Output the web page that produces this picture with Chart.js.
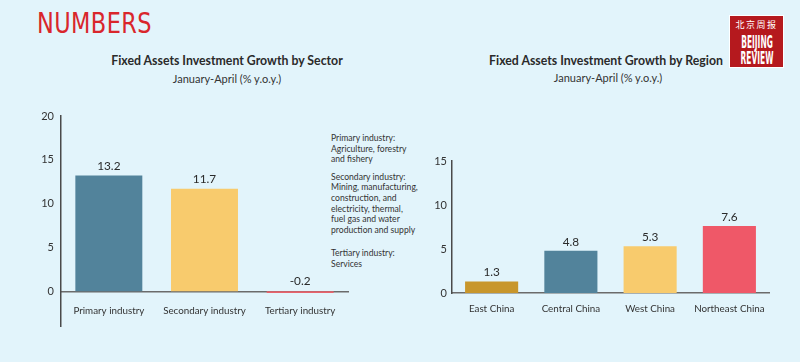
<!DOCTYPE html>
<html>
<head>
<meta charset="utf-8">
<script src="https://cdn.jsdelivr.net/npm/chart.js@4.4.1/dist/chart.umd.min.js"></script>
<style>
  html, body { margin:0; padding:0; }
  body { width:800px; height:362px; background:#e2f4fb; position:relative; overflow:hidden; font-family: Lato, "Open Sans", sans-serif; color:#333; }
  .abs { position:absolute; }
  #numbers { left:37px; top:6px; font-family:"Liberation Sans Narrow","DejaVu Sans Condensed",sans-serif; font-size:29px; color:#d9262c; letter-spacing:0.5px; transform:scaleX(0.86); transform-origin:0 0; }
  .title { font-weight:bold; font-size:12.3px; color:#2a2a2a; text-align:center; white-space:nowrap; }
  .sub { font-size:11px; color:#333; text-align:center; white-space:nowrap; }
  #note { left:331px; top:133px; font-size:8.6px; line-height:10.6px; color:#333; }
  #note p { margin:0 0 7px 0; }
  #logo { left:730px; top:16px; width:53px; height:51px; background:#b5191e; color:#fff; outline:1px solid #fff; overflow:hidden; }
  #logo .cn { font-family:"Noto Sans CJK SC"; font-size:9px; line-height:11px; margin-top:3px; letter-spacing:1.5px; text-align:center; }
  #logo .en { position:absolute; left:-23px; width:100px; text-align:center; font-family:"Liberation Sans Narrow","DejaVu Sans Condensed",sans-serif; font-weight:bold; font-size:13px; line-height:13px; transform:scale(0.64, 1.4); letter-spacing:0px; }
  canvas { position:absolute; }
</style>
</head>
<body>
<div id="numbers" class="abs">NUMBERS</div>
<div id="logo" class="abs"><div class="cn">北京周报</div><div class="en" style="top:19px;">BEIJING</div><div class="en" style="top:35px;">REVIEW</div></div>

<div class="abs title" style="left:27px; width:400px; top:53px;">Fixed Assets Investment Growth by Sector</div>
<div class="abs sub" style="left:27px; width:400px; top:72px;">January-April (% y.o.y.)</div>
<div class="abs title" style="left:406px; width:400px; top:53px;">Fixed Assets Investment Growth by Region</div>
<div class="abs sub" style="left:408px; width:400px; top:71px;">January-April (% y.o.y.)</div>

<div id="note" class="abs">
  <p>Primary industry:<br>Agriculture, forestry<br>and fishery</p>
  <p>Secondary industry:<br>Mining, manufacturing,<br>construction, and<br>electricity, thermal,<br>fuel gas and water<br>production and supply</p>
  <p style="margin-top:13px">Tertiary industry:<br>Services</p>
</div>

<canvas id="c1" width="360" height="240" style="left:0px; top:100px;"></canvas>
<canvas id="c2" width="400" height="200" style="left:400px; top:140px;"></canvas>

<script>
const sectorCategories = ['Primary industry', 'Secondary industry', 'Tertiary industry'];
const sectorValues = [13.2, 11.7, -0.2];
const sectorColors = ['#52839b', '#f8cb6d', '#e8636c'];
const sectorTicks = [0, 5, 10, 15, 20];

const regionCategories = ['East China', 'Central China', 'West China', 'Northeast China'];
const regionValues = [1.3, 4.8, 5.3, 7.6];
const regionColors = ['#c8962b', '#52839b', '#f8cb6d', '#ef5868'];
const regionTicks = [0, 5, 10, 15];

const FONT = 'Lato, "Open Sans", sans-serif';

const valueLabels = {
  id: 'valueLabels',
  afterDatasetsDraw(chart, args, opts) {
    const ctx = chart.ctx;
    const meta = chart.getDatasetMeta(0);
    const data = chart.data.datasets[0].data;
    ctx.save();
    ctx.font = '11.8px ' + FONT;
    ctx.fillStyle = '#2a2a2a';
    ctx.textAlign = 'center';
    ctx.textBaseline = 'bottom';
    meta.data.forEach((bar, i) => {
      const top = Math.min(bar.y, bar.base);
      ctx.fillText(String(data[i]), bar.x, top - opts.gap);
    });
    ctx.restore();
  }
};

function makeChart(id, cats, vals, colors, ticks, cfg) {
  return new Chart(document.getElementById(id), {
    type: 'bar',
    data: {
      labels: cats,
      datasets: [{ data: vals, backgroundColor: colors, barPercentage: cfg.barPct, categoryPercentage: 1 }]
    },
    plugins: [valueLabels],
    options: {
      responsive: false,
      animation: false,
      layout: { padding: cfg.padding },
      plugins: { legend: { display: false }, tooltip: { enabled: false }, valueLabels: { gap: cfg.gap } },
      scales: {
        x: {
          position: { y: 0 },
          grid: { display: false, drawTicks: false },
          border: { display: true, color: '#6b6b6b', width: 1.5 },
          ticks: { padding: cfg.xPad, color: '#333', maxRotation: 0, minRotation: 0, autoSkip: false, font: { family: FONT, size: 9.8 } }
        },
        y: {
          min: cfg.min, max: cfg.max,
          grid: { display: false, drawTicks: false },
          border: { display: true, color: '#4a4a4a', width: 1.5 },
          afterBuildTicks: (s) => { s.ticks = ticks.map(v => ({ value: v })); },
          afterFit: (s) => { s.width = cfg.yWidth; },
          ticks: { padding: cfg.yPad, color: '#333', font: { family: FONT, size: 11 } }
        }
      }
    }
  });
}

makeChart('c1', sectorCategories, sectorValues, sectorColors, sectorTicks, {
  barPct: 0.7, min: -4, max: 20, yWidth: 61, yPad: 7, xPad: 14, gap: 4,
  padding: { left: 0, right: 12, top: 16, bottom: 11 }
});
makeChart('c2', regionCategories, regionValues, regionColors, regionTicks, {
  barPct: 0.67, min: 0, max: 15, yWidth: 52, yPad: 5, xPad: 10, gap: 3,
  padding: { left: 0, right: 31, top: 21, bottom: 47 }
});
</script>
</body>
</html>
